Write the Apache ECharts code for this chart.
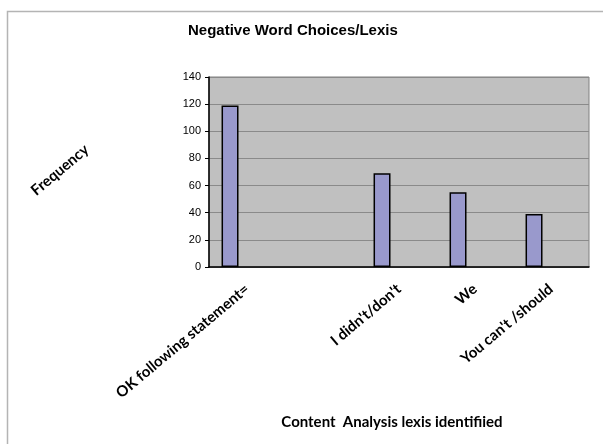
<!DOCTYPE html>
<html>
<head>
<meta charset="utf-8">
<title>Negative Word Choices/Lexis</title>
<script src="https://cdn.jsdelivr.net/npm/echarts@6.0.0/dist/echarts.min.js"></script>
<style>
  html, body { margin: 0; padding: 0; background: #fff; }
  #chart { width: 603px; height: 444px; }
</style>
</head>
<body>
<div id="chart"></div>
<script>
// 数据
const categories = ['OK following statement=', '', "I didn't/don't", 'We', "You can't /should"];
const frequency = [119, '-', 69, 55, 39];
const emptySeriesA = []; // excel 里空的第二、三系列，占位
const emptySeriesB = [];
const yTicks = { min: 0, max: 140, interval: 20 };

const labelFont = 'Lato';
const chart = echarts.init(document.getElementById('chart'));

const barStyle = {
  color: '#9999cc',
  borderColor: '#000',
  borderWidth: 1.5
};

const option = {
  backgroundColor: '#fff',
  animation: false,
  title: {
    text: 'Negative Word Choices/Lexis',
    left: 188,
    top: 23,
    padding: 0,
    textStyle: {
      fontFamily: 'Liberation Sans',
      fontSize: 15,
      fontWeight: 'bold',
      color: '#000'
    }
  },
  graphic: [
    { // 外框
      type: 'rect',
      shape: { x: 7.5, y: 11.5, width: 700, height: 500 },
      style: { fill: 'none', stroke: '#b4b4b4', lineWidth: 1.5 },
      silent: true,
      z: -1
    },
    { // y 轴标题（斜着）
      type: 'text',
      x: 60,
      y: 170,
      rotation: 40 * Math.PI / 180,
      style: {
        text: 'Frequency',
        fontFamily: labelFont,
        fontSize: 15,
        fontWeight: 'bold',
        fill: '#000',
        align: 'center',
        verticalAlign: 'middle'
      }
    }
  ],
  grid: {
    left: 209,
    right: 14,
    top: 77,
    bottom: 177,
    show: true,
    backgroundColor: '#c0c0c0',
    borderColor: '#808080',
    borderWidth: 1
  },
  xAxis: {
    type: 'category',
    data: categories,
    name: 'Content  Analysis lexis identifiied',
    nameLocation: 'middle',
    nameGap: 148,
    nameTextStyle: {
      fontFamily: labelFont,
      fontSize: 15,
      fontWeight: 'bold',
      color: '#000',
      padding: [0, 14, 0, 0]
    },
    axisLine: { lineStyle: { color: '#000', width: 1.5 } },
    axisTick: { length: 5, lineStyle: { color: '#000' } },
    axisLabel: {
      interval: 0,
      rotate: 40,
      margin: 20,
      fontFamily: labelFont,
      fontSize: 15,
      fontWeight: 'bold',
      color: '#000'
    }
  },
  yAxis: {
    type: 'value',
    min: yTicks.min,
    max: yTicks.max,
    interval: yTicks.interval,
    axisLine: { show: true, lineStyle: { color: '#000', width: 1.5 } },
    axisTick: { show: true, length: 4, lineStyle: { color: '#000' } },
    axisLabel: {
      margin: 8,
      fontFamily: 'Liberation Sans',
      fontSize: 11,
      color: '#000'
    },
    splitLine: { lineStyle: { color: '#8a8a8a', width: 1 } }
  },
  series: [
    {
      type: 'bar',
      data: frequency,
      barGap: '0%',
      barCategoryGap: '33%',
      itemStyle: barStyle
    },
    { type: 'bar', data: emptySeriesA, itemStyle: barStyle },
    { type: 'bar', data: emptySeriesB, itemStyle: barStyle }
  ]
};

chart.setOption(option);
</script>
</body>
</html>
